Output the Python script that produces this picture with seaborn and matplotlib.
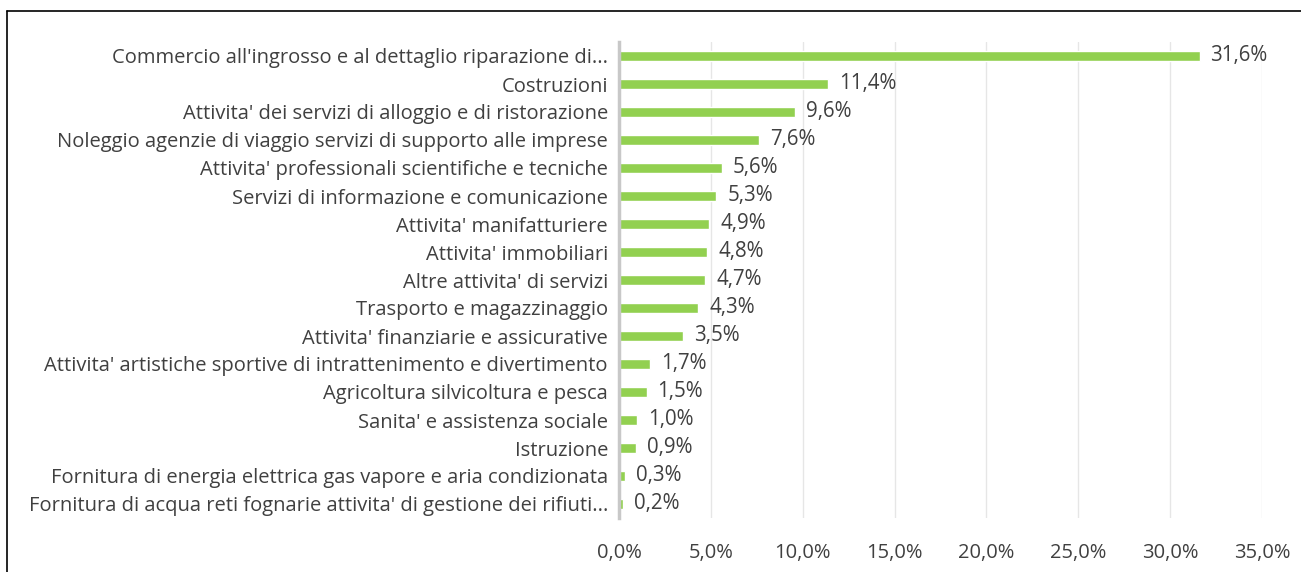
import matplotlib
matplotlib.use('Agg')
import matplotlib.pyplot as plt
import matplotlib.lines as mlines
import pandas as pd
import seaborn as sns

settori = [
    "Commercio all'ingrosso e al dettaglio riparazione di...",
    "Costruzioni",
    "Attivita' dei servizi di alloggio e di ristorazione",
    "Noleggio agenzie di viaggio servizi di supporto alle imprese",
    "Attivita' professionali scientifiche e tecniche",
    "Servizi di informazione e comunicazione",
    "Attivita' manifatturiere",
    "Attivita' immobiliari",
    "Altre attivita' di servizi",
    "Trasporto e magazzinaggio",
    "Attivita' finanziarie e assicurative",
    "Attivita' artistiche sportive di intrattenimento e divertimento",
    "Agricoltura silvicoltura e pesca",
    "Sanita' e assistenza sociale",
    "Istruzione",
    "Fornitura di energia elettrica gas vapore e aria condizionata",
    "Fornitura di acqua reti fognarie attivita' di gestione dei rifiuti...",
]
quote = [31.6, 11.4, 9.6, 7.6, 5.6, 5.3, 4.9, 4.8, 4.7, 4.3, 3.5, 1.7, 1.5, 1.0, 0.9, 0.3, 0.2]
tick_x = [0, 5, 10, 15, 20, 25, 30, 35]

df = pd.DataFrame({'settore': settori, 'quota': quote})

sns.set_style('white')
plt.rcParams['font.family'] = ['Open Sans', 'DejaVu Sans']
testo = '#404040'

fig = plt.figure(figsize=(13.01, 5.72), dpi=100)
ax = fig.add_axes([619 / 1301, 1 - 518 / 572, (1262 - 619) / 1301, (518 - 42) / 572])

sns.barplot(data=df, x='quota', y='settore', color='#92D050', width=0.37,
            saturation=1, ax=ax, zorder=3)

ax.set_xlim(0, 35)
ax.set_xticks(tick_x)
ax.set_xticklabels([f'{t:.1f}%'.replace('.', ',') for t in tick_x])
ax.grid(axis='x', color='#E6E6E6', linewidth=1, zorder=0)
ax.set_xlabel('')
ax.set_ylabel('')
ax.tick_params(axis='both', length=0, colors=testo)
ax.tick_params(axis='x', pad=18, labelsize=14.5)
ax.tick_params(axis='y', pad=8, labelsize=14.5)
for s in ['top', 'right', 'bottom']:
    ax.spines[s].set_visible(False)
ax.spines['left'].set_color('#C8C8C8')
ax.spines['left'].set_linewidth(2.5)
ax.spines['left'].set_zorder(4)

for i, v in enumerate(quote):
    ax.text(v + 0.6, i, f'{v:.1f}%'.replace('.', ','), va='center', ha='left',
            fontsize=14.8, color=testo)

# cornice del grafico
fig.add_artist(mlines.Line2D([7 / 1301, 1], [1 - 11 / 572, 1 - 11 / 572], color='black', lw=1.2))
fig.add_artist(mlines.Line2D([7 / 1301, 7 / 1301], [0, 1 - 11 / 572], color='black', lw=1.2))

fig.savefig('out.png', dpi=100)
